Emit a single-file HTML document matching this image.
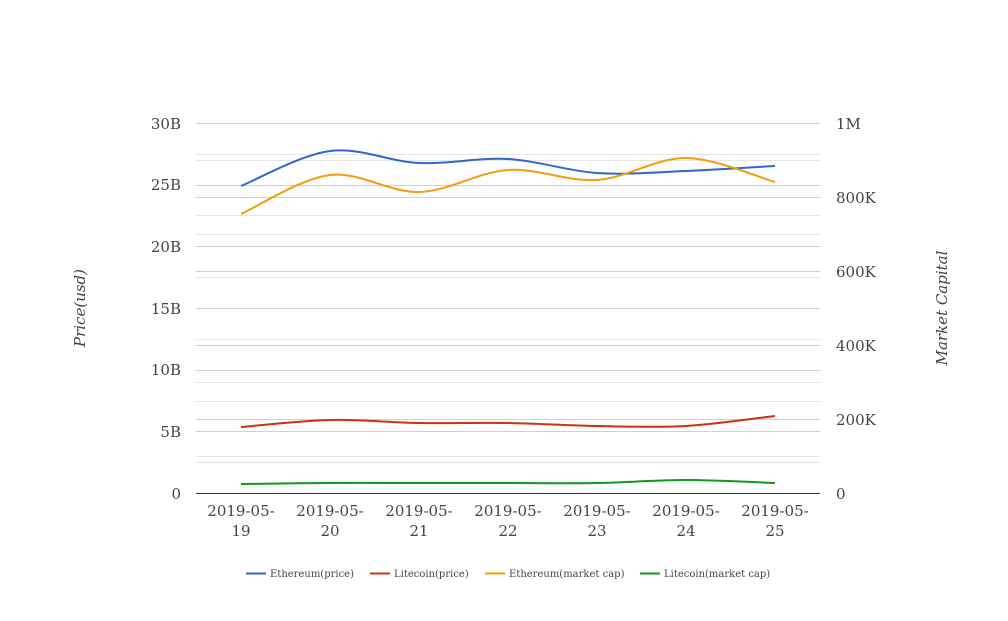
<!DOCTYPE html>
<html><head><meta charset="utf-8"><style>
body{margin:0;background:#fff}
text{font-family:"DejaVu Serif","Liberation Serif",serif;fill:#444}
</style></head><body>
<svg id="s" width="1008" height="616" xmlns="http://www.w3.org/2000/svg">
<g stroke="#e6e6e6" stroke-width="1">
<line x1="196" x2="820" y1="154.5" y2="154.5"/><line x1="196" x2="820" y1="215.5" y2="215.5"/>
<line x1="196" x2="820" y1="277.5" y2="277.5"/><line x1="196" x2="820" y1="339.5" y2="339.5"/>
<line x1="196" x2="820" y1="401.5" y2="401.5"/><line x1="196" x2="820" y1="462.5" y2="462.5"/>
<line x1="196" x2="820" y1="160.5" y2="160.5"/><line x1="196" x2="820" y1="234.5" y2="234.5"/>
<line x1="196" x2="820" y1="308.5" y2="308.5"/><line x1="196" x2="820" y1="382.5" y2="382.5"/>
<line x1="196" x2="820" y1="456.5" y2="456.5"/>
</g>
<g stroke="#d0d0d0" stroke-width="1">
<line x1="196" x2="820" y1="123.5" y2="123.5"/><line x1="196" x2="820" y1="185.5" y2="185.5"/>
<line x1="196" x2="820" y1="246.5" y2="246.5"/><line x1="196" x2="820" y1="308.5" y2="308.5"/>
<line x1="196" x2="820" y1="370.5" y2="370.5"/><line x1="196" x2="820" y1="431.5" y2="431.5"/>
<line x1="196" x2="820" y1="197.5" y2="197.5"/><line x1="196" x2="820" y1="271.5" y2="271.5"/>
<line x1="196" x2="820" y1="345.5" y2="345.5"/><line x1="196" x2="820" y1="419.5" y2="419.5"/>
</g>
<line x1="196" x2="820" y1="493.5" y2="493.5" stroke="#333"/>
<g font-size="15" text-anchor="end">
<text x="181" y="129">30B</text><text x="181" y="190">25B</text><text x="181" y="252">20B</text>
<text x="181" y="314">15B</text><text x="181" y="375">10B</text><text x="181" y="437">5B</text><text x="181" y="499">0</text>
</g>
<g font-size="15">
<text x="836" y="129">1M</text><text x="836" y="203">800K</text><text x="836" y="277">600K</text>
<text x="836" y="351">400K</text><text x="836" y="425">200K</text><text x="836" y="499">0</text>
</g>
<g font-size="15" text-anchor="middle" id="xl"></g>
<text font-size="15" font-style="italic" transform="translate(85,308) rotate(-90)" text-anchor="middle">Price(usd)</text>
<text font-size="15" font-style="italic" transform="translate(947,308) rotate(-90)" text-anchor="middle">Market Capital</text>
<g id="p" fill="none" stroke-width="2"></g>
<g font-size="10">
<line x1="246" x2="266" y1="573.5" y2="573.5" stroke="#3366cc" stroke-width="2"/><text x="270" y="577">Ethereum(price)</text>
<line x1="370" x2="390" y1="573.5" y2="573.5" stroke="#cc3311" stroke-width="2"/><text x="394" y="577">Litecoin(price)</text>
<line x1="485" x2="505" y1="573.5" y2="573.5" stroke="#f09d0e" stroke-width="2"/><text x="509" y="577">Ethereum(market cap)</text>
<line x1="640" x2="660" y1="573.5" y2="573.5" stroke="#119922" stroke-width="2"/><text x="664" y="577">Litecoin(market cap)</text>
</g>
</svg>
<script>
var xs=[241,330,419,508,597,686,775];
var xl=document.getElementById('xl');var h='';
for(var i=0;i<7;i++){h+='<text x="'+xs[i]+'" y="516">2019-05-</text><text x="'+xs[i]+'" y="536">'+(19+i)+'</text>';}
xl.innerHTML=h;
var S=[["#3366cc",[186,151,163,159,173,171,166]],["#f09d0e",[214,175,192,170,180,158,182]],
["#cc3311",[427,420,423,423,426,426,416]],["#119922",[484,483,483,483,483,480,483]]];
var g='';
S.forEach(function(s){var y=s[1];var d='M'+xs[0]+','+y[0];
for(var i=0;i<6;i++){var p0=i?i-1:i,p3=i<5?i+2:i+1;
var c1x=xs[i]+(xs[i+1]-xs[p0])/6,c1y=y[i]+(y[i+1]-y[p0])/6;
var c2x=xs[i+1]-(xs[p3]-xs[i])/6,c2y=y[i+1]-(y[p3]-y[i])/6;
d+=' C'+c1x+','+c1y+' '+c2x+','+c2y+' '+xs[i+1]+','+y[i+1];}
g+='<path d="'+d+'" stroke="'+s[0]+'"/>';});
document.getElementById('p').innerHTML=g;
</script>
</body></html>
